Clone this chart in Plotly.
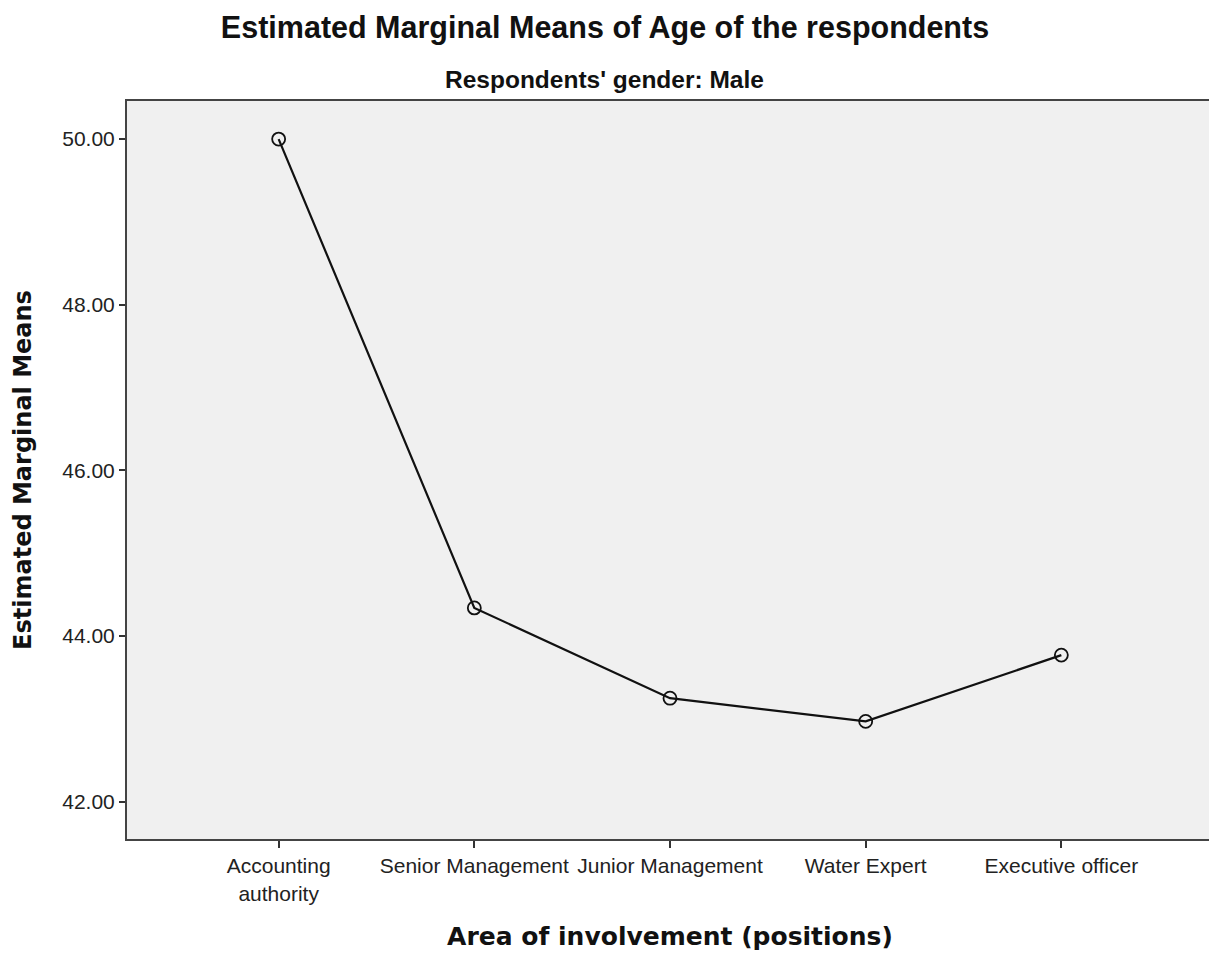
import plotly.graph_objects as go

categories = ["Accounting<br>authority", "Senior Management", "Junior Management", "Water Expert", "Executive officer"]
means = [50.00, 44.34, 43.25, 42.97, 43.77]
y_ticks = [42, 44, 46, 48, 50]

# page body margin of 8px is compensated for in the sizes below
W, H = 1209, 949
L, T, R, B = 119, 93, 2, 118
plot_h = H - T - B

fig = go.Figure()
fig.add_trace(go.Scatter(
    x=list(range(len(categories))), y=means, mode="lines+markers",
    line=dict(color="#111111", width=2.2),
    marker=dict(symbol="circle-open", size=13, color="#111111", line=dict(width=1.8)),
    showlegend=False, hoverinfo="skip"))

fig.update_layout(
    width=W, height=H,
    margin=dict(l=L, r=R, t=T, b=B),
    paper_bgcolor="white", plot_bgcolor="#f0f0f0",
    title=dict(text="<b>Estimated Marginal Means of Age of the respondents</b>",
               x=(605 - 8) / W, xref="container", xanchor="center", y=1 - 19 / H, yanchor="middle",
               font=dict(family="Liberation Sans, Arial", size=30.5, color="#111111")),
    font=dict(family="Liberation Sans, Arial", color="#222222"),
)
fig.add_annotation(text="<b>Respondents' gender: Male</b>", xref="paper", yref="paper",
                   x=(605 - 127) / 1088, y=1 + (T - 72) / plot_h,
                   xanchor="center", yanchor="middle", showarrow=False,
                   font=dict(family="Liberation Sans, Arial", size=24.5, color="#111111"))

fig.update_xaxes(
    range=[-0.775, 4.775], tickmode="array", tickvals=list(range(len(categories))),
    ticktext=categories, ticks="outside", ticklen=7, tickwidth=1.5, tickcolor="#333333",
    showline=True, linecolor="#444444", linewidth=2, mirror=True, showgrid=False, zeroline=False,
    tickfont=dict(family="Liberation Sans, Arial", size=21, color="#222222"),
    title=dict(text="<b>Area of involvement (positions)</b>", standoff=24,
               font=dict(family="DejaVu Sans", size=25, color="#111111")))
fig.update_yaxes(
    range=[41.55, 50.46], tickmode="array", tickvals=y_ticks,
    ticktext=[f"{v:.2f}" for v in y_ticks], ticks="outside", ticklen=6, tickwidth=1.5,
    tickcolor="#333333",
    showline=True, linecolor="#444444", linewidth=2, mirror=True, showgrid=False, zeroline=False,
    tickfont=dict(family="Liberation Sans, Arial", size=21, color="#222222"),
    title=dict(text="<b>Estimated Marginal Means</b>", standoff=24,
               font=dict(family="DejaVu Sans", size=24, color="#111111")))

fig.write_html("out.html")
